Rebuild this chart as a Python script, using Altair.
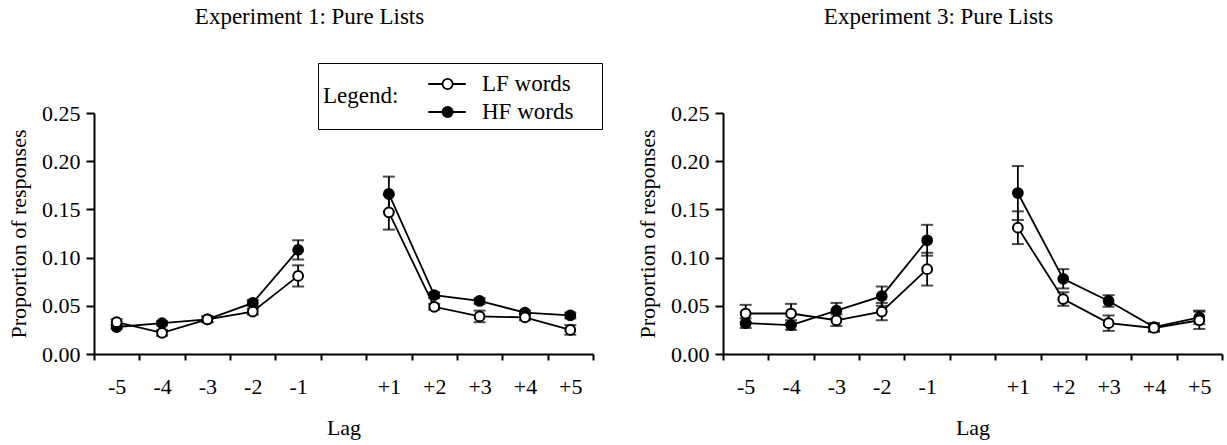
import altair as alt
import pandas as pd

FONT = "Liberation Serif"

lags = ["-5", "-4", "-3", "-2", "-1", "+1", "+2", "+3", "+4", "+5"]
x_domain = ["-5", "-4", "-3", "-2", "-1", " ", "+1", "+2", "+3", "+4", "+5"]
series_names = ["LF words", "HF words"]

# Experiment 1
exp1_lf = [0.033, 0.022, 0.036, 0.044, 0.081, 0.147, 0.049, 0.039, 0.038, 0.025]
exp1_lf_err = [0.003, 0.003, 0.003, 0.003, 0.011, 0.018, 0.003, 0.006, 0.003, 0.005]
exp1_hf = [0.028, 0.032, 0.036, 0.053, 0.108, 0.166, 0.061, 0.055, 0.043, 0.040]
exp1_hf_err = [0.002, 0.002, 0.003, 0.003, 0.010, 0.018, 0.003, 0.003, 0.002, 0.003]

# Experiment 3
exp3_lf = [0.042, 0.042, 0.035, 0.044, 0.088, 0.131, 0.057, 0.032, 0.027, 0.035]
exp3_lf_err = [0.009, 0.010, 0.006, 0.009, 0.017, 0.017, 0.007, 0.008, 0.004, 0.009]
exp3_hf = [0.032, 0.030, 0.045, 0.060, 0.118, 0.167, 0.078, 0.055, 0.028, 0.038]
exp3_hf_err = [0.005, 0.005, 0.008, 0.010, 0.016, 0.028, 0.010, 0.006, 0.004, 0.007]

# legend glyph: a short line with a circle on it
SYMBOL = ("M-1.25,0L-0.3,0M0.38,0L1.25,0"
          "M-0.3,0A0.34,0.34 0 1,1 0.38,0A0.34,0.34 0 1,1 -0.3,0Z")


def build(lf, lf_err, hf, hf_err):
    rows = []
    for i, lag in enumerate(lags):
        side = "neg" if lag.startswith("-") else "pos"
        for name, vals, errs in (("HF words", hf, hf_err), ("LF words", lf, lf_err)):
            rows.append(dict(lag=lag, idx=i, side=side, series=name,
                             value=vals[i], lo=vals[i] - errs[i], hi=vals[i] + errs[i]))
    return pd.DataFrame(rows)


def panel(df, title, show_legend, title_offset):
    x = alt.X("lag:O",
              scale=alt.Scale(type="band", domain=x_domain, paddingInner=0, paddingOuter=0),
              axis=alt.Axis(title="Lag", tickBand="extent", labelAngle=0, tickSize=6,
                            labelPadding=16, titlePadding=20))
    yscale = alt.Scale(domain=[0, 0.25], nice=False, zero=True)
    yaxis = alt.Axis(title="Proportion of responses",
                     values=[0, 0.05, 0.1, 0.15, 0.2, 0.25], format=".2f",
                     tickSize=8, labelPadding=6, titlePadding=11)
    base = alt.Chart(df)
    rules = base.mark_rule(color="black", strokeWidth=1.8).encode(
        x=x, y=alt.Y("lo:Q", scale=yscale, axis=yaxis), y2="hi:Q")
    caps_hi = base.mark_tick(color="black", size=12, thickness=2).encode(
        x=x, y=alt.Y("hi:Q", scale=yscale, axis=yaxis))
    caps_lo = base.mark_tick(color="black", size=12, thickness=2).encode(
        x=x, y=alt.Y("lo:Q", scale=yscale, axis=yaxis))
    lines = base.mark_line(color="black", strokeWidth=1.8).encode(
        x=x, y=alt.Y("value:Q", scale=yscale, axis=yaxis),
        detail=["series:N", "side:N"], order="idx:Q")
    fill_scale = alt.Scale(domain=series_names, range=["white", "black"])
    if show_legend:
        legend = alt.Legend(title="Legend:", orient="none", legendX=224, legendY=-50,
                            titleOrient="left", titleAnchor="middle", direction="vertical",
                            symbolType=SYMBOL, symbolSize=900, symbolStrokeColor="black",
                            symbolStrokeWidth=1.8, labelFont=FONT, labelFontSize=23,
                            labelColor="black", titleFont=FONT, titleFontSize=23,
                            titleFontWeight="normal", titleColor="black",
                            labelExpr="datum.label + '\u00a0\u00a0\u00a0\u00a0\u200b'",
                            labelLimit=400,
                            strokeColor="black", padding=5, labelOffset=19,
                            titlePadding=32, rowPadding=0)
        fill = alt.Fill("series:N", scale=fill_scale, legend=legend)
    else:
        fill = alt.Fill("series:N", scale=fill_scale, legend=None)
    points = base.mark_point(shape="circle", filled=True, size=95, stroke="black",
                             strokeWidth=2, opacity=1).encode(
        x=x, y=alt.Y("value:Q", scale=yscale, axis=yaxis), fill=fill)
    return alt.layer(rules, caps_hi, caps_lo, lines, points).properties(
        width=499, height=241,
        title=alt.TitleParams(title, font=FONT, fontSize=23, fontWeight="normal",
                              color="black", anchor="middle", frame="group", dx=-34,
                              offset=title_offset))


left = panel(build(exp1_lf, exp1_lf_err, exp1_hf, exp1_hf_err),
             "Experiment 1: Pure Lists", True, 34)
right = panel(build(exp3_lf, exp3_lf_err, exp3_hf, exp3_hf_err),
              "Experiment 3: Pure Lists", False, 73)

chart = alt.hconcat(left, right, spacing=33).resolve_scale(fill="independent").properties(
    padding={"left": 7, "top": 5, "right": 2, "bottom": 2},
    background="white"
).configure_axis(
    labelFont=FONT, labelFontSize=22, labelColor="black",
    titleFont=FONT, titleFontSize=22, titleFontWeight="normal", titleColor="black",
    domainColor="black", domainWidth=2, tickColor="black", tickWidth=2, grid=False
).configure_view(stroke=None)

chart.save("out.html", embed_options={"renderer": "svg", "actions": False})
